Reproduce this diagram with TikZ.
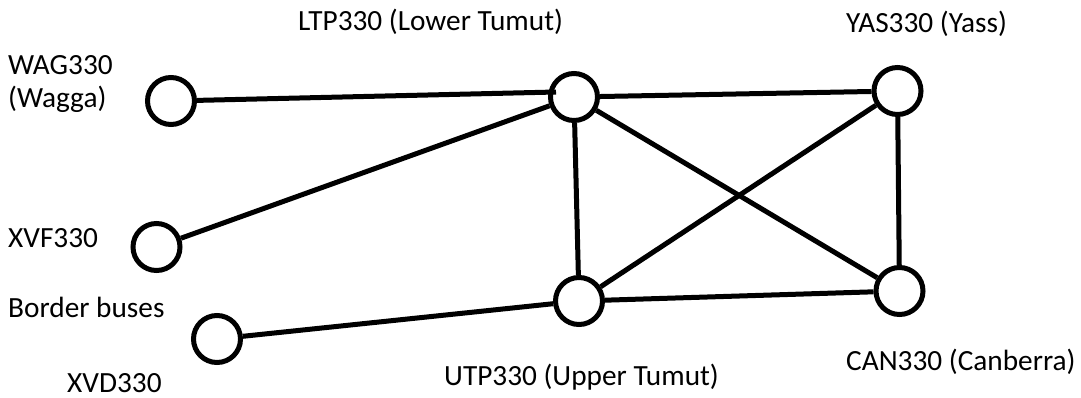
\documentclass[tikz,border=0pt]{standalone}
\usepackage{fontspec}
\setmainfont{Carlito}
\begin{document}
\begin{tikzpicture}[x=1pt,y=-1pt,
  bus/.style={circle, draw, line width=5pt, minimum size=47pt, inner sep=0pt},
  link/.style={line width=5pt},
  lbl/.style={inner sep=0pt, font=\fontsize{29.3}{33}\selectfont}]
\useasboundingbox (0,0) rectangle (1081,397);

% buses
\node[bus] (wag) at (171,101) {};
\node[bus] (ltp) at (574,97) {};
\node[bus] (yas) at (897.5,91) {};
\node[bus] (xvf) at (156.5,247) {};
\node[bus] (utp) at (579,301) {};
\node[bus] (can) at (899.5,291) {};
\node[bus] (xvd) at (217,339) {};

% bus names
\node[lbl, align=left, anchor=north west] (wagl) at (8,55) {WAG330\\(Wagga)};
\node[lbl, anchor=base west] (ltpl) at (298,30) {LTP330 (Lower Tumut)};
\node[lbl, anchor=base west] (yasl) at (846,32) {YAS330 (Yass)};
\node[lbl, anchor=base west] (xvfl) at (8,247) {XVF330};
\node[lbl, anchor=base west] (bord) at (8,317) {Border buses};
\node[lbl, anchor=base west] (xvdl) at (67,392) {XVD330};
\node[lbl, anchor=base west] (utpl) at (444,385) {UTP330 (Upper Tumut)};
\node[lbl, anchor=base west] (canl) at (846,370) {CAN330 (Canberra)};

% lines
\coordinate (ltpw) at (556,92);
\draw[link] (wag) -- (ltpw);
\draw[link] (xvf) -- (ltp);
\draw[link] (xvd) -- (utp);
\draw[link] (ltp) -- (yas);
\draw[link] (ltp) -- (utp);
\draw[link] (ltp) -- (can);
\draw[link] (utp) -- (yas);
\draw[link] (utp) -- (can);
\draw[link] (yas) -- (can);
\end{tikzpicture}
\end{document}
